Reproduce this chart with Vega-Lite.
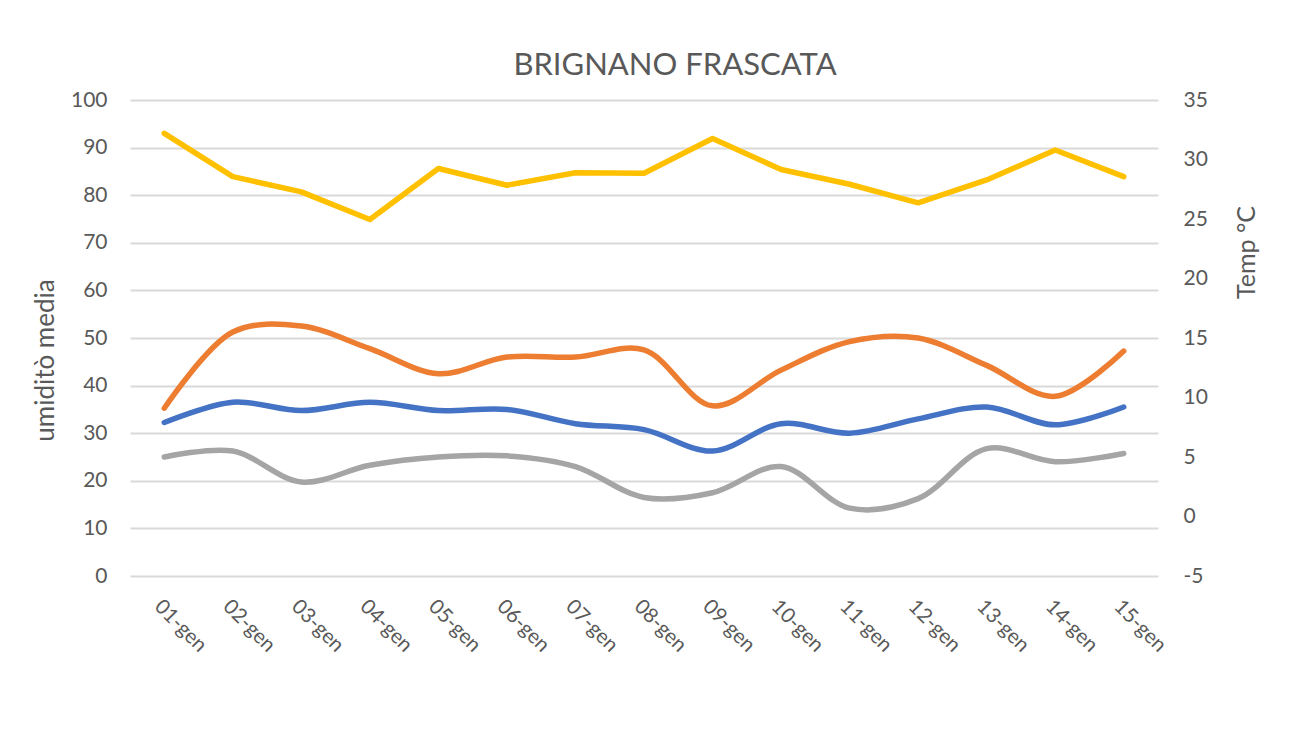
{
  "$schema": "https://vega.github.io/schema/vega-lite/v6.json",
  "width": 1028,
  "height": 476,
  "autosize": {"type": "none"},
  "padding": {"left": 130, "top": 100, "right": 133, "bottom": 180},
  "background": "white",
  "title": {
    "text": "BRIGNANO FRASCATA",
    "font": "Lato",
    "fontSize": 31,
    "fontWeight": "normal",
    "color": "#595959",
    "anchor": "middle",
    "dx": 31,
    "offset": 7
  },
  "data": {
    "values": [
      {"day": "01-gen", "hum": 93.0, "tmax": 9.1, "tmean": 7.9, "tmin": 5.0},
      {"day": "02-gen", "hum": 83.9, "tmax": 15.5, "tmean": 9.6, "tmin": 5.5},
      {"day": "03-gen", "hum": 80.7, "tmax": 16.0, "tmean": 8.9, "tmin": 2.9},
      {"day": "04-gen", "hum": 74.9, "tmax": 14.1, "tmean": 9.6, "tmin": 4.3},
      {"day": "05-gen", "hum": 85.6, "tmax": 12.0, "tmean": 8.9, "tmin": 5.0},
      {"day": "06-gen", "hum": 82.1, "tmax": 13.4, "tmean": 9.0, "tmin": 5.1},
      {"day": "07-gen", "hum": 84.7, "tmax": 13.4, "tmean": 7.8, "tmin": 4.2},
      {"day": "08-gen", "hum": 84.6, "tmax": 14.0, "tmean": 7.3, "tmin": 1.6},
      {"day": "09-gen", "hum": 91.9, "tmax": 9.3, "tmean": 5.5, "tmin": 2.0},
      {"day": "10-gen", "hum": 85.4, "tmax": 12.3, "tmean": 7.8, "tmin": 4.2},
      {"day": "11-gen", "hum": 82.3, "tmax": 14.7, "tmean": 7.0, "tmin": 0.7},
      {"day": "12-gen", "hum": 78.4, "tmax": 15.0, "tmean": 8.2, "tmin": 1.5},
      {"day": "13-gen", "hum": 83.2, "tmax": 12.7, "tmean": 9.2, "tmin": 5.7},
      {"day": "14-gen", "hum": 89.5, "tmax": 10.1, "tmean": 7.7, "tmin": 4.6},
      {"day": "15-gen", "hum": 83.9, "tmax": 13.9, "tmean": 9.2, "tmin": 5.3}
    ]
  },
  "encoding": {
    "x": {
      "field": "day",
      "type": "ordinal",
      "sort": null,
      "scale": {"type": "point", "padding": 0.5},
      "axis": {
        "title": null,
        "labelAngle": 45,
        "labelAlign": "left",
        "labelBaseline": "top",
        "labelFont": "Lato",
        "labelFontSize": 20.5,
        "labelColor": "#595959",
        "labelPadding": 20,
        "ticks": false,
        "domain": false,
        "grid": false
      }
    }
  },
  "layer": [
    {
      "mark": {"type": "line", "color": "#FFC000", "strokeWidth": 5.5, "strokeCap": "round", "strokeJoin": "round", "interpolate": "linear"},
      "encoding": {
        "y": {
          "field": "hum",
          "type": "quantitative",
          "scale": {"domain": [0, 100], "nice": false, "zero": false},
          "axis": {
            "orient": "left",
            "values": [0, 10, 20, 30, 40, 50, 60, 70, 80, 90, 100],
            "title": "umiditò media",
            "titleFont": "Lato",
            "titleFontSize": 26,
            "titleFontWeight": "normal",
            "titleColor": "#595959",
            "titleAngle": -90,
            "titleAlign": "center",
            "titleBaseline": "alphabetic",
            "titleX": -77,
            "titleY": 260,
            "labelFont": "Lato",
            "labelFontSize": 21,
            "labelColor": "#595959",
            "labelPadding": 23,
            "ticks": false,
            "domain": false,
            "grid": true,
            "gridColor": "#D9D9D9",
            "gridWidth": 2
          }
        }
      }
    },
    {
      "transform": [{"fold": ["tmax", "tmean", "tmin"], "as": ["serie", "temp"]}],
      "mark": {"type": "line", "strokeWidth": 5.5, "strokeCap": "round", "strokeJoin": "round", "interpolate": "catmull-rom"},
      "encoding": {
        "y": {
          "field": "temp",
          "type": "quantitative",
          "scale": {"domain": [-5, 35], "nice": false, "zero": false},
          "axis": {
            "orient": "right",
            "values": [-5, 0, 5, 10, 15, 20, 25, 30, 35],
            "labelExpr": "datum.value < 0 ? '-' + abs(datum.value) : datum.label",
            "title": "Temp °C",
            "titleFont": "Lato",
            "titleFontSize": 25,
            "titleFontWeight": "normal",
            "titleColor": "#595959",
            "titleAngle": -90,
            "titleAlign": "center",
            "titleBaseline": "alphabetic",
            "titleX": 96,
            "titleY": 152,
            "labelFont": "Lato",
            "labelFontSize": 21,
            "labelColor": "#595959",
            "labelPadding": 25,
            "ticks": false,
            "domain": false,
            "grid": false
          }
        },
        "color": {
          "field": "serie",
          "type": "nominal",
          "scale": {"domain": ["tmax", "tmean", "tmin"], "range": ["#ED7D31", "#4472C4", "#A5A5A5"]},
          "legend": null
        }
      }
    }
  ],
  "resolve": {"scale": {"y": "independent"}, "axis": {"y": "independent"}},
  "config": {"view": {"stroke": null}}
}
